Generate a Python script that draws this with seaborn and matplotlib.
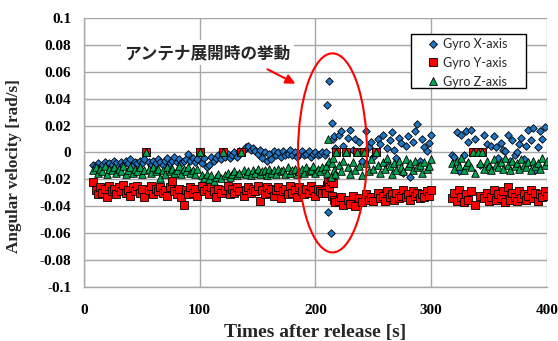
import matplotlib
matplotlib.use("Agg")
import matplotlib.pyplot as plt
from matplotlib.patches import Ellipse, Rectangle
from matplotlib.lines import Line2D
import seaborn as sns
import pandas as pd
import numpy as np

# sample times [s]: 2 s steps, 1 s steps around the antenna deployment, gap 300-318 s
times = np.concatenate([np.arange(8, 207, 2), np.arange(208, 218, 1),
                        np.arange(218, 301, 2), np.arange(318, 401, 2)])

gyro_x = [
    # 8 - 206 s
    -0.009, -0.010, -0.008, -0.011, -0.009, -0.007, -0.010, -0.008, -0.009, -0.006,
    -0.008, -0.010, -0.007, -0.009, -0.006, -0.008, -0.005, -0.009, -0.007, -0.008,
    -0.006, -0.008, -0.005, 0.000, -0.007, -0.009, -0.006, -0.008, -0.005, -0.007,
    -0.009, -0.006, -0.004, -0.008, -0.006, -0.003, -0.007, -0.005, -0.008, -0.006,
    -0.005, -0.001, -0.006, -0.004, -0.007, -0.005, 0.000, -0.008, -0.004, -0.011,
    -0.009, -0.003, -0.006, -0.004, -0.002, -0.005, 0.000, -0.003, -0.001, -0.004,
    -0.002, 0.000, -0.003, 0.001, 0.000, 0.002, 0.004, 0.005, 0.002, 0.003,
    0.001, -0.001, 0.002, -0.004, 0.000, -0.006, -0.001, -0.005, 0.001, -0.002,
    0.000, -0.003, 0.001, -0.002, -0.001, 0.002, -0.002, 0.000, -0.003, -0.001,
    0.001, -0.002, -0.001, 0.001, -0.003, -0.001, 0.000, -0.002, -0.001, 0.000,
    # 208 - 217 s
    -0.002, 0.000, 0.035, -0.044, 0.053, -0.060, 0.022, 0.010, 0.012, 0.003,
    # 218 - 300 s
    0.000, 0.013, 0.016, 0.005, 0.000, 0.011, 0.017, 0.002, 0.010, 0.000,
    0.008, -0.006, 0.000, 0.016, 0.004, 0.008, -0.003, 0.000, 0.010, 0.006,
    0.013, -0.008, 0.003, 0.009, 0.015, 0.002, -0.004, 0.011, 0.007, -0.015,
    0.005, 0.012, -0.018, 0.008, 0.016, 0.021, -0.006, 0.010, 0.004, 0.001,
    0.007, 0.013,
    # 318 - 400 s
    -0.002, -0.003, 0.015, -0.014, 0.013, -0.002, 0.016, 0.008, 0.017, 0.000,
    0.010, 0.000, -0.009, 0.000, 0.013, 0.006, -0.011, 0.005, 0.012, 0.004,
    -0.004, 0.007, 0.002, 0.001, 0.013, -0.006, 0.009, -0.002, 0.000, 0.006,
    0.011, -0.005, 0.005, 0.017, 0.009, 0.018, -0.013, 0.004, 0.016, 0.010,
    0.019, -0.009,
]

gyro_y = [
    -0.022, -0.028, -0.031, -0.026, -0.030, -0.027, -0.033, -0.025, -0.029, -0.027,
    -0.031, -0.026, -0.029, -0.024, -0.030, -0.028, -0.032, -0.026, -0.029, -0.025,
    -0.030, -0.027, -0.033, 0.000, -0.028, -0.025, -0.031, -0.027, -0.029, -0.026,
    -0.030, -0.028, -0.032, -0.026, -0.021, -0.029, -0.031, -0.027, -0.033, -0.039,
    -0.028, -0.031, -0.026, -0.030, -0.027, -0.032, 0.000, -0.025, -0.029, -0.027,
    -0.031, -0.026, -0.029, -0.033, -0.027, -0.030, 0.000, -0.028, -0.025, -0.031,
    -0.027, -0.030, -0.026, -0.029, 0.000, -0.032, -0.028, -0.026, -0.030, -0.027,
    -0.029, -0.025, -0.036, -0.028, -0.031, -0.026, -0.030, -0.027, -0.032, -0.028,
    -0.026, -0.034, -0.029, -0.027, -0.031, -0.025, -0.030, -0.028, -0.033, -0.026,
    -0.029, -0.031, -0.027, -0.030, -0.025, -0.028, -0.032, -0.027, -0.029, -0.030,
    -0.028, -0.030, -0.024, -0.022, -0.026, -0.021, -0.032, -0.023, -0.035, -0.037,
    0.000, -0.036, -0.033, -0.039, 0.000, -0.035, -0.038, -0.032, -0.040, 0.000,
    -0.034, -0.037, 0.000, -0.031, -0.035, -0.033, -0.036, 0.000, -0.030, -0.034,
    -0.032, -0.036, -0.029, -0.033, -0.031, -0.035, -0.030, -0.034, -0.032, -0.028,
    -0.033, -0.031, -0.035, -0.029, -0.032, -0.030, -0.034, -0.031, -0.033, -0.029,
    -0.032, -0.028,
    -0.034, -0.030, -0.036, -0.028, -0.033, -0.037, -0.031, -0.035, -0.029, 0.000,
    -0.039, 0.000, -0.032, 0.000, -0.034, -0.030, -0.036, -0.033, -0.028, -0.035,
    -0.031, -0.034, -0.029, -0.037, -0.026, -0.035, -0.030, -0.033, -0.036, -0.029,
    -0.034, -0.031, -0.035, -0.032, -0.028, -0.034, -0.030, -0.036, -0.031, -0.033,
    -0.029, -0.032,
]

gyro_z = [
    -0.013, -0.011, -0.015, -0.012, -0.014, -0.010, -0.016, -0.012, -0.013, -0.011,
    -0.015, -0.012, -0.014, -0.010, -0.016, -0.013, -0.011, -0.015, -0.012, -0.014,
    -0.011, -0.016, -0.013, 0.000, -0.012, -0.015, -0.011, -0.014, -0.012, -0.019,
    -0.013, -0.016, -0.011, -0.014, -0.012, -0.015, -0.013, -0.010, -0.016, -0.012,
    -0.014, -0.011, -0.015, -0.013, -0.016, -0.012, 0.000, -0.017, -0.019, -0.016,
    -0.020, -0.017, -0.021, -0.018, -0.016, -0.019, 0.000, -0.017, -0.015, -0.018,
    -0.016, -0.014, -0.017, -0.015, 0.000, -0.013, -0.016, -0.014, -0.017, -0.013,
    -0.015, -0.012, -0.016, -0.014, -0.013, -0.017, -0.012, -0.015, -0.013, -0.016,
    -0.012, -0.014, -0.013, -0.016, -0.011, -0.015, -0.013, -0.012, -0.016, -0.014,
    -0.012, -0.015, -0.011, -0.014, -0.013, -0.010, -0.015, -0.012, -0.014, -0.011,
    -0.012, -0.010, -0.015, 0.010, -0.006, -0.018, -0.008, -0.004, -0.013, -0.016,
    0.000, -0.009, -0.014, -0.006, 0.000, -0.011, -0.016, -0.007, -0.013, 0.000,
    -0.010, -0.017, 0.000, -0.008, -0.014, -0.005, -0.012, 0.000, -0.009, -0.015,
    -0.007, -0.012, -0.004, -0.010, -0.016, -0.008, -0.013, -0.006, -0.011, -0.014,
    -0.005, -0.010, -0.008, -0.013, -0.006, -0.011, -0.009, -0.015, -0.007, -0.012,
    -0.010, -0.005,
    -0.008, -0.012, -0.006, -0.010, -0.004, -0.013, -0.009, -0.007, -0.011, 0.000,
    -0.015, 0.000, -0.008, 0.000, -0.012, -0.006, -0.010, -0.013, -0.005, -0.009,
    -0.011, -0.007, -0.012, -0.004, -0.009, -0.013, -0.006, -0.010, -0.008, -0.012,
    -0.005, -0.009, -0.011, -0.007, -0.013, -0.006, -0.010, -0.008, -0.012, -0.004,
    -0.009, -0.006,
]

series_names = ["Gyro X-axis", "Gyro Y-axis", "Gyro Z-axis"]
y_ticks = [-0.1, -0.08, -0.06, -0.04, -0.02, 0, 0.02, 0.04, 0.06, 0.08, 0.1]
y_tick_labels = ["-0.1", "-0.08", "-0.06", "-0.04", "-0.02", "0", "0.02", "0.04", "0.06", "0.08", "0.1"]
x_ticks = [0, 100, 200, 300, 400]

COLORS = {"Gyro X-axis": "#1f76c4", "Gyro Y-axis": "#ff0000", "Gyro Z-axis": "#00a651"}
MARKERS = {"Gyro X-axis": "D", "Gyro Y-axis": "s", "Gyro Z-axis": "^"}
SIZES = {"Gyro X-axis": 15, "Gyro Y-axis": 28, "Gyro Z-axis": 30}
GRID = "#a6a6a6"

sns.set_theme(style="white")
plt.rcParams["font.family"] = ["Liberation Serif", "DejaVu Serif"]

fig = plt.figure(figsize=(5.58, 3.41), dpi=100)
ax = fig.add_axes([0.1505, 0.1584, 0.8297, 0.7889])

# X first, Z last so that Z sits on top as in the original
for name, vals in zip(series_names, [gyro_x, gyro_y, gyro_z]):
    sub = pd.DataFrame({"time": times, "value": vals})
    sns.scatterplot(data=sub, x="time", y="value", marker=MARKERS[name],
                    color=COLORS[name], s=SIZES[name], edgecolor="black",
                    linewidth=0.6, ax=ax, legend=False)

ax.set_xlim(0, 400)
ax.set_ylim(-0.1, 0.1)
ax.set_xticks(x_ticks)
ax.set_yticks(y_ticks)
ax.set_yticklabels(y_tick_labels)
ax.grid(True, color=GRID, linewidth=1.0)
ax.set_axisbelow(True)
for side in ["top", "right"]:
    ax.spines[side].set_visible(False)
for side in ["left", "bottom"]:
    ax.spines[side].set_color(GRID)
    ax.spines[side].set_linewidth(1.0)
ax.tick_params(axis="both", colors=GRID, length=4, width=1.0, labelcolor="black")
ax.tick_params(axis="x", pad=8)
ax.tick_params(axis="y", pad=5)
for lab in ax.get_xticklabels() + ax.get_yticklabels():
    lab.set_fontweight("bold")
    lab.set_fontsize(11)

ax.set_xlabel("Times after release [s]", fontsize=14, fontweight="bold", labelpad=5)
ax.set_ylabel("Angular velocity [rad/s]", fontsize=12.3, fontweight="bold")
ax.yaxis.set_label_coords(-0.134, 0.45)

# legend: black box drawn by hand, entries placed inside it
ax.add_patch(Rectangle((0.706, 0.740), 0.249, 0.200, transform=ax.transAxes,
                       facecolor="white", edgecolor="black", linewidth=1.0,
                       zorder=4.5))
handles = [Line2D([], [], linestyle="none", marker=MARKERS[n], color=COLORS[n],
                  markeredgecolor="black", markeredgewidth=0.6,
                  markersize=4.0 if MARKERS[n] == "D" else 5.4)
           for n in series_names]
leg = ax.legend(handles, series_names, loc="upper left", bbox_to_anchor=(0.741, 0.926),
                frameon=False, prop={"family": "Lato", "size": 9},
                borderpad=0, borderaxespad=0, handletextpad=0.25,
                labelspacing=0.55, handlelength=1.0)
leg.set_zorder(5)

# deployment annotation
ax.add_patch(Ellipse((214.7, -0.0003), 59.6, 0.148, fill=False,
                     edgecolor="red", linewidth=1.5, zorder=4))
ax.text(0.266, 0.870, "アンテナ展開時の挙動", transform=ax.transAxes,
        ha="center", va="center", fontsize=12, fontweight="bold",
        family=["Noto Sans CJK JP", "DejaVu Sans"],
        bbox=dict(facecolor="white", edgecolor="none", pad=2.5), zorder=5)
ax.annotate("", xy=(0.462, 0.751), xytext=(0.391, 0.814),
            xycoords="axes fraction", textcoords="axes fraction",
            arrowprops=dict(arrowstyle="-|>", color="red", lw=1.5,
                            mutation_scale=14), zorder=5)

fig.savefig("out.png", dpi=100)
